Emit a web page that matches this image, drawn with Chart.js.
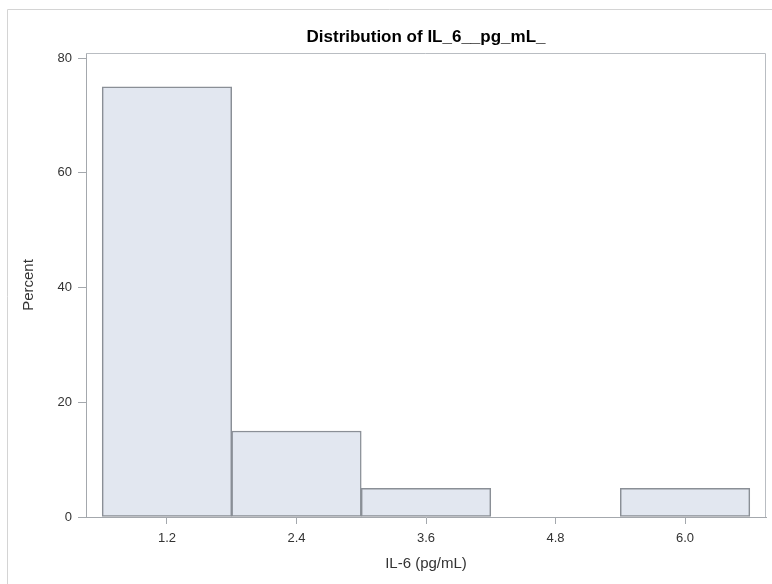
<!DOCTYPE html>
<html>
<head>
<meta charset="utf-8">
<script src="https://cdn.jsdelivr.net/npm/chart.js@4/dist/chart.umd.min.js"></script>
<style>
  html, body { margin: 0; padding: 0; background: #ffffff; }
  #wrap { width: 772px; height: 584px; }
</style>
</head>
<body>
<div id="wrap"><canvas id="hist" width="772" height="584"></canvas></div>
<script>
// Histogram of IL-6 (pg/mL): bin midpoints and percent of observations per bin
const binMidpoints = [1.2, 2.4, 3.6, 4.8, 6.0];
const percentValues = [75, 15, 5, 0, 5];
const xTickValues = [1.2, 2.4, 3.6, 4.8, 6.0];
const xTickLabels = ['1.2', '2.4', '3.6', '4.8', '6.0'];
const yTickValues = [0, 20, 40, 60, 80];

const chartTitle = 'Distribution of IL_6__pg_mL_';
const xAxisTitle = 'IL-6 (pg/mL)';
const yAxisTitle = 'Percent';

const FONT = "'Liberation Sans', Arial, Helvetica, sans-serif";
const AXIS_GRAY = '#a4a8ad';

// Outer graph frame, plot wall (top/right edges) and centred title
const framePlugin = {
  id: 'frame',
  beforeDraw(chart) {
    const ctx = chart.ctx;
    ctx.save();
    ctx.strokeStyle = '#d4d4d4';
    ctx.lineWidth = 1;
    ctx.beginPath();
    ctx.moveTo(7.5, chart.height);
    ctx.lineTo(7.5, 9.5);
    ctx.lineTo(chart.width, 9.5);
    ctx.stroke();
    ctx.restore();
  },
  afterDraw(chart) {
    const ctx = chart.ctx;
    const a = chart.chartArea;
    ctx.save();
    ctx.strokeStyle = '#b9bdc2';
    ctx.lineWidth = 1;
    ctx.beginPath();
    ctx.moveTo(a.left, a.top + 0.5);
    ctx.lineTo(a.right - 0.5, a.top + 0.5);
    ctx.lineTo(a.right - 0.5, a.bottom);
    ctx.stroke();

    ctx.fillStyle = '#000000';
    ctx.font = 'bold 17px ' + FONT;
    ctx.textAlign = 'center';
    ctx.textBaseline = 'alphabetic';
    ctx.fillText(chartTitle, (a.left + a.right) / 2, 42);
    ctx.restore();
  }
};

const ctx = document.getElementById('hist').getContext('2d');
new Chart(ctx, {
  type: 'bar',
  data: {
    datasets: [{
      label: yAxisTitle,
      data: binMidpoints.map((x, i) => ({ x: x, y: percentValues[i] })),
      backgroundColor: '#e2e7f0',
      borderColor: '#8a8f96',
      borderWidth: 1.5,
      borderSkipped: false,
      barPercentage: 1,
      categoryPercentage: 1
    }]
  },
  options: {
    responsive: false,
    animation: false,
    layout: { padding: { left: 0, right: 6, top: 53, bottom: 0 } },
    plugins: {
      legend: { display: false },
      title: { display: false },
      tooltip: { enabled: false }
    },
    scales: {
      x: {
        type: 'linear',
        min: 0.45,
        max: 6.75,
        offset: false,
        afterBuildTicks(scale) {
          scale.ticks = xTickValues.map(v => ({ value: v }));
        },
        afterFit(scale) { scale.height = 67; },
        ticks: {
          autoSkip: false,
          maxRotation: 0,
          padding: 7,
          color: '#333333',
          font: { family: FONT, size: 13 },
          callback: (v) => xTickLabels[xTickValues.indexOf(v)] ?? ''
        },
        grid: {
          display: true,
          offset: false,
          drawOnChartArea: false,
          drawTicks: true,
          tickLength: 7,
          color: AXIS_GRAY
        },
        border: { display: true, color: AXIS_GRAY, width: 1 },
        title: {
          display: true,
          text: xAxisTitle,
          color: '#333333',
          font: { family: FONT, size: 15 },
          padding: { top: 0, bottom: 11 }
        }
      },
      y: {
        type: 'linear',
        min: 0,
        max: 80.9,
        afterBuildTicks(scale) {
          scale.ticks = yTickValues.map(v => ({ value: v }));
        },
        afterFit(scale) { scale.width = 86; },
        ticks: {
          padding: 6,
          color: '#333333',
          font: { family: FONT, size: 13 }
        },
        grid: {
          display: true,
          drawOnChartArea: false,
          drawTicks: true,
          tickLength: 8,
          color: AXIS_GRAY
        },
        border: { display: true, color: AXIS_GRAY, width: 1 },
        title: {
          display: true,
          text: yAxisTitle,
          color: '#333333',
          font: { family: FONT, size: 15 },
          padding: { top: 20, bottom: 0 }
        }
      }
    }
  },
  plugins: [framePlugin]
});
</script>
</body>
</html>
